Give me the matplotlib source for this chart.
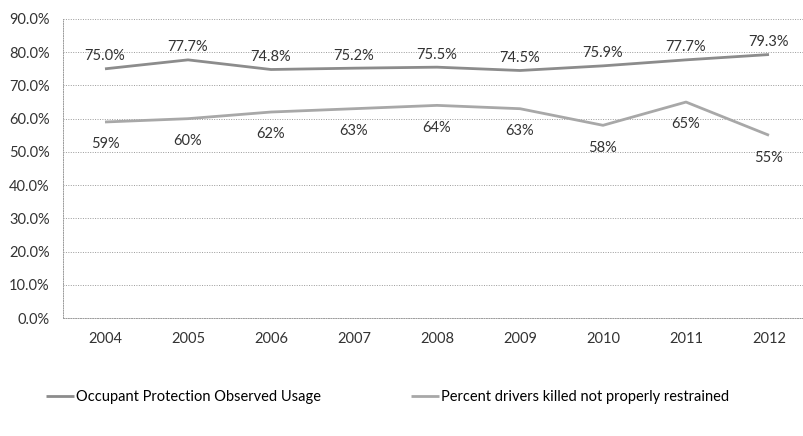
import matplotlib
matplotlib.use("Agg")
import matplotlib.pyplot as plt
from matplotlib.ticker import PercentFormatter

years = ["2004", "2005", "2006", "2007", "2008", "2009", "2010", "2011", "2012"]
observed_usage = [75.0, 77.7, 74.8, 75.2, 75.5, 74.5, 75.9, 77.7, 79.3]
not_restrained = [59, 60, 62, 63, 64, 63, 58, 65, 55]

plt.rcParams["font.family"] = ["Lato", "DejaVu Sans"]
fs = 10.5

fig = plt.figure(figsize=(8.04, 4.36), dpi=100)
ax = fig.add_axes([63.5 / 804, 118 / 436, 740.5 / 804, 299 / 436])

x = list(range(len(years)))
l1, = ax.plot(x, observed_usage, color="#8c8c8c", lw=2.0, solid_capstyle="butt",
              label="Occupant Protection Observed Usage")
l2, = ax.plot(x, not_restrained, color="#a8a8a8", lw=2.0, solid_capstyle="butt",
              label="Percent drivers killed not properly restrained")

for xi, v in zip(x, observed_usage):
    ax.annotate(f"{v:.1f}%", (xi, v), xytext=(0, 4), textcoords="offset points",
                ha="center", va="bottom", fontsize=fs, color="#333333")
for xi, v in zip(x, not_restrained):
    ax.annotate(f"{v}%", (xi, v), xytext=(0, -11), textcoords="offset points",
                ha="center", va="top", fontsize=fs, color="#333333")

ax.set_xlim(-0.5, -0.5 + 740.5 / 83)
ax.set_ylim(0, 90)
ax.set_yticks(range(0, 91, 10))
ax.yaxis.set_major_formatter(PercentFormatter(decimals=1))
ax.set_xticks(x)
ax.set_xticklabels(years)
ax.tick_params(axis="both", length=0, labelsize=fs, colors="#333333")
ax.tick_params(axis="x", pad=10)
ax.tick_params(axis="y", pad=10)

ax.grid(axis="y", linestyle=(0, (1, 1.5)), color="#9a9a9a", lw=0.7)
for s in ["top", "right"]:
    ax.spines[s].set_visible(False)
for s in ["left", "bottom"]:
    ax.spines[s].set_linestyle((0, (1, 1.5)))
    ax.spines[s].set_color("#9a9a9a")
    ax.spines[s].set_linewidth(0.7)

fig.legend(handles=[l1, l2], loc="center left", bbox_to_anchor=(46 / 804, 39 / 436),
           ncol=2, frameon=False, fontsize=fs, handlelength=1.9, handletextpad=0.15,
           columnspacing=6.2, borderpad=0, borderaxespad=0)

fig.savefig("out.png", dpi=100)
